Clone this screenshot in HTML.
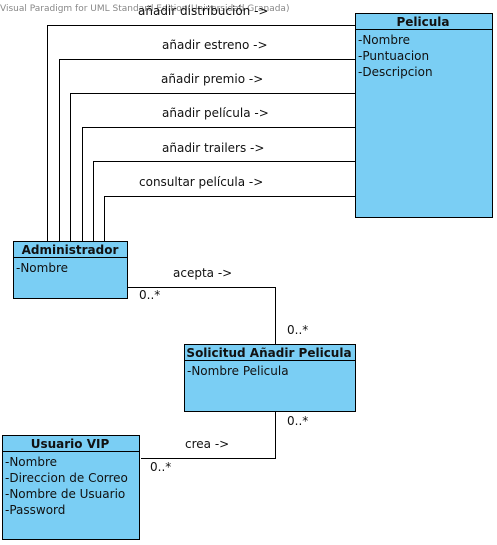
<!DOCTYPE html>
<html><head><meta charset="utf-8"><style>body{margin:0;background:#fff}svg{display:block}text{font-family:"DejaVu Sans","Liberation Sans",sans-serif;font-size:12px;fill:#111}</style></head><body>
<svg width="497" height="545" viewBox="0 0 497 545">
<g fill="none" stroke="#000" stroke-width="1">
<polyline points="355.5,25.5 47.5,25.5 47.5,241"/>
<polyline points="355.5,59.5 59.5,59.5 59.5,241"/>
<polyline points="355.5,93.5 70.5,93.5 70.5,241"/>
<polyline points="355.5,127.5 82.5,127.5 82.5,241"/>
<polyline points="355.5,161.5 93.5,161.5 93.5,241"/>
<polyline points="355.5,196.5 104.5,196.5 104.5,241"/>
<polyline points="128,287.5 275.5,287.5 275.5,344"/>
<polyline points="275.5,411 275.5,458.5 141,458.5"/>
</g>
<g fill="#7acef4" stroke="#000" stroke-width="1">
<rect x="355.5" y="13.5" width="137" height="204"/><line x1="355.5" y1="29.5" x2="492.5" y2="29.5"/>
<rect x="13.5" y="241.5" width="114" height="57"/><line x1="13.5" y1="257.5" x2="127.5" y2="257.5"/>
<rect x="184.5" y="344.5" width="171" height="67"/><line x1="184.5" y1="360.5" x2="355.5" y2="360.5"/>
<rect x="2.5" y="435.5" width="137" height="104"/><line x1="2.5" y1="451.5" x2="139.5" y2="451.5"/>
</g>
<text x="0" y="11" style="font-size:9px;fill:#888">Visual Paradigm for UML Standard Edition(Universidad Granada)</text>
<text x="138" y="15">añadir distribución -&gt;</text>
<text x="162" y="49">añadir estreno -&gt;</text>
<text x="161" y="83">añadir premio -&gt;</text>
<text x="162" y="117">añadir película -&gt;</text>
<text x="162" y="152">añadir trailers -&gt;</text>
<text x="139" y="186">consultar película -&gt;</text>
<text x="423" y="26" text-anchor="middle" font-weight="bold" style="font-weight:bold">Pelicula</text>
<text x="358" y="44">-Nombre</text>
<text x="358" y="60">-Puntuacion</text>
<text x="358" y="76">-Descripcion</text>
<text x="70" y="254" text-anchor="middle" style="font-weight:bold">Administrador</text>
<text x="16" y="272">-Nombre</text>
<text x="173" y="277">acepta -&gt;</text>
<text x="139" y="299">0..*</text>
<text x="287" y="334">0..*</text>
<text x="269" y="357" text-anchor="middle" style="font-weight:bold">Solicitud Añadir Pelicula</text>
<text x="187" y="375">-Nombre Pelicula</text>
<text x="287" y="425">0..*</text>
<text x="185" y="448">crea -&gt;</text>
<text x="150" y="471">0..*</text>
<text x="70" y="448" text-anchor="middle" style="font-weight:bold">Usuario VIP</text>
<text x="5" y="466">-Nombre</text>
<text x="5" y="482">-Direccion de Correo</text>
<text x="5" y="498">-Nombre de Usuario</text>
<text x="5" y="514">-Password</text>
</svg>
</body></html>
